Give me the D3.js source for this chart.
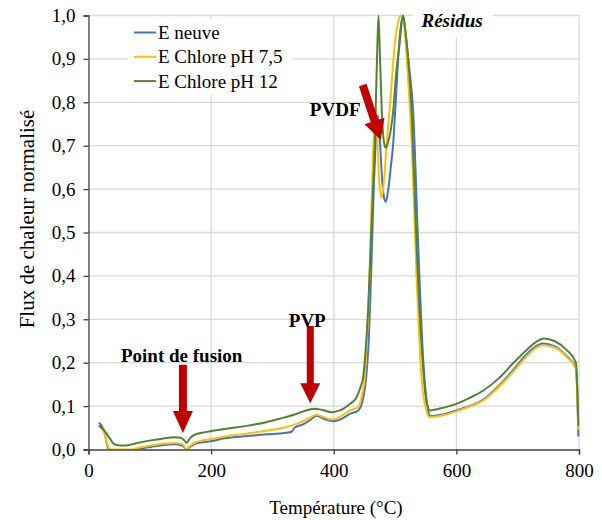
<!DOCTYPE html>
<html><head><meta charset="utf-8">
<script src="https://cdn.jsdelivr.net/npm/d3@7"></script>
<style>body{margin:0;background:#fff}svg{display:block}text{font-family:"Liberation Serif","Times New Roman",serif;fill:#000}</style>
</head><body><svg id="c" width="602" height="520"></svg>
<script>
// ---- data ----
const seriesNames = ["E neuve", "E Chlore pH 7,5", "E Chlore pH 12"];
const seriesColors = ["#4472c4", "#ffc000", "#548235"];
const xTicks = [0, 200, 400, 600, 800];
const yTicks = [0, 0.1, 0.2, 0.3, 0.4, 0.5, 0.6, 0.7, 0.8, 0.9, 1.0];

const tempNeuve = [17,25,33,50,70,85,102,120,140,152,157,160,164,170,178,200,222,260,290,320,331,336,350,362,372,385,399,412,426,440,448,453,457,460,465,469,472,475,479,482,485,489,493,497,501,505,509,513,517,523,529.5,537.6,546,554,557,575,600,620,644,670,692,715,730,741,760,780,795,799];
const fluxNeuve = [0.062,0.045,0.0,-0.003,-0.003,0.002,0.006,0.010,0.012,0.010,0.004,-0.001,0.004,0.010,0.015,0.019,0.026,0.031,0.035,0.038,0.041,0.050,0.058,0.068,0.078,0.070,0.065,0.070,0.082,0.090,0.118,0.167,0.25,0.36,0.59,0.72,0.77,0.72,0.62,0.58,0.571,0.60,0.65,0.706,0.80,0.90,0.97,1.0,0.96,0.88,0.78,0.475,0.205,0.090,0.077,0.080,0.090,0.099,0.115,0.148,0.182,0.220,0.238,0.244,0.238,0.215,0.188,0.03];

const tempPH75 = [17,25,35,50,70,85,102,120,140,152,157,160,164,170,178,200,222,260,290,323,345,360,372,385,396,410,426,440,446,450.6,454,457.6,463,466,468.6,471,474,478,482,486,491,500,505,509,512,515,520,527,535,543,551,556,575,600,620,644,670,692,715,730,740,760,780,795,799];
const fluxPH75 = [0.055,0.040,0.0,0.0,0.0,0.005,0.009,0.013,0.015,0.013,0.006,0.0,0.006,0.013,0.018,0.024,0.030,0.037,0.043,0.052,0.062,0.072,0.080,0.074,0.069,0.075,0.090,0.098,0.125,0.167,0.25,0.36,0.63,0.75,0.79,0.72,0.62,0.58,0.62,0.70,0.78,0.94,0.985,1.0,0.995,0.975,0.88,0.71,0.40,0.167,0.090,0.075,0.078,0.088,0.098,0.113,0.145,0.178,0.215,0.234,0.240,0.235,0.213,0.185,0.045];

const tempPH12 = [17,25,35,42,53,65,80,102,120,140,150,157,160,165,173,190,222,260,290,312,335,355,369,382,396,410,426,437,444,448,452,456,461.5,467,470.5,473,475.5,479,483,485,488,497,502,507,513,518,527,535,543,551,557,575,600,620,644,670,692,715,730,743,760,780,795,799];
const fluxPH12 = [0.055,0.045,0.025,0.012,0.009,0.010,0.015,0.021,0.025,0.028,0.027,0.020,0.015,0.025,0.034,0.040,0.047,0.055,0.063,0.071,0.080,0.090,0.094,0.091,0.086,0.090,0.105,0.120,0.145,0.167,0.230,0.321,0.513,0.706,0.90,1.0,0.90,0.76,0.70,0.695,0.705,0.78,0.87,0.93,1.0,0.95,0.78,0.475,0.245,0.113,0.090,0.095,0.105,0.118,0.136,0.165,0.198,0.230,0.248,0.256,0.250,0.229,0.200,0.055];

const temps = [tempNeuve, tempPH75, tempPH12];
const fluxes = [fluxNeuve, fluxPH75, fluxPH12];

// ---- layout ----
const svg = d3.select("#c");
const x = d3.scaleLinear().domain([0, 800]).range([88.5, 579]);
const y = d3.scaleLinear().domain([0, 1]).range([449.5, 15.5]);
const FS = 19;

// gridlines
const grid = svg.append("g");
grid.selectAll("line.h").data(yTicks.slice(1)).join("line")
  .attr("x1", x(0)).attr("x2", x(800)).attr("y1", d => y(d)).attr("y2", d => y(d))
  .attr("stroke", "#d9d9d9").attr("stroke-width", 1.3);
grid.selectAll("line.v").data(xTicks.slice(1)).join("line")
  .attr("x1", d => x(d)).attr("x2", d => x(d)).attr("y1", y(0)).attr("y2", y(1))
  .attr("stroke", "#d9d9d9").attr("stroke-width", 1.3);

// clip
svg.append("clipPath").attr("id", "clip").append("rect")
  .attr("x", x(0)).attr("y", y(1) - 2).attr("width", x(800) - x(0) + 2).attr("height", y(0) - y(1) + 2);

// lines
const line = d3.line().x(d => x(d[0])).y(d => y(d[1])).curve(d3.curveMonotoneX);
const lg = svg.append("g").attr("clip-path", "url(#clip)");
seriesNames.forEach((n, i) => {
  const pts = temps[i].map((t, k) => [t, fluxes[i][k]]);
  lg.append("path").attr("d", line(pts)).attr("fill", "none")
    .attr("stroke", seriesColors[i]).attr("stroke-width", 2).attr("stroke-linejoin", "round");
});

// axes
const yAxis = d3.axisLeft(y).tickValues(yTicks).tickSize(5).tickPadding(8)
  .tickFormat(d => d3.format(".1f")(d).replace(".", ","));
const gy = svg.append("g").attr("transform", `translate(${x(0)},0)`).call(yAxis);
const xAxis = d3.axisBottom(x).tickValues(xTicks).tickSize(5).tickPadding(9).tickFormat(d3.format("d"));
const gx = svg.append("g").attr("transform", `translate(0,${y(0)})`).call(xAxis);
[gx, gy].forEach(g => {
  g.attr("font-family", "Liberation Serif");
  g.selectAll("path.domain").attr("stroke", "#404040").attr("stroke-width", 1.3);
  g.selectAll(".tick line").attr("stroke", "#404040").attr("stroke-width", 1.3);
  g.selectAll("text").attr("font-family", "Liberation Serif").attr("font-size", FS).attr("fill", "#000");
});

// axis titles
svg.append("text").attr("x", 336).attr("y", 514).attr("text-anchor", "middle")
  .attr("font-size", FS).text("Température (°C)");
svg.append("text").attr("transform", "translate(34,219) rotate(-90)").attr("text-anchor", "middle")
  .attr("font-size", 21).text("Flux de chaleur normalisé");

// legend
const leg = svg.append("g");
leg.append("rect").attr("x", 128).attr("y", 19).attr("width", 165).attr("height", 76).attr("fill", "#fff");
seriesNames.forEach((n, i) => {
  const yy = 32.5 + i * 24.3;
  leg.append("line").attr("x1", 134).attr("x2", 156).attr("y1", yy).attr("y2", yy)
    .attr("stroke", seriesColors[i]).attr("stroke-width", 2);
  leg.append("text").attr("x", 158).attr("y", yy).attr("dy", "0.35em").attr("font-size", FS).text(n);
});

// Résidus label
svg.append("rect").attr("x", 413).attr("y", 0).attr("width", 80).attr("height", 37).attr("fill", "#fff");
svg.append("text").attr("x", 421.5).attr("y", 26.7).attr("font-size", FS)
  .attr("font-weight", "bold").attr("font-style", "italic").text("Résidus");

// annotations
const red = "#c00000";
function arrow(x0, y0, x1, y1, sw, hw, hl) {
  const dx = x1 - x0, dy = y1 - y0, L = Math.hypot(dx, dy);
  const ux = dx / L, uy = dy / L, px = -uy, py = ux;
  const bx = x1 - ux * hl, by = y1 - uy * hl;
  const p = [
    [x0 + px * sw / 2, y0 + py * sw / 2], [bx + px * sw / 2, by + py * sw / 2],
    [bx + px * hw / 2, by + py * hw / 2], [x1, y1],
    [bx - px * hw / 2, by - py * hw / 2], [bx - px * sw / 2, by - py * sw / 2],
    [x0 - px * sw / 2, y0 - py * sw / 2]];
  svg.append("polygon").attr("points", p.map(q => q.join(",")).join(" ")).attr("fill", red);
}
arrow(x(154), y(0.195), x(154), y(0.038), 8, 20, 22);
arrow(x(361.7), y(0.2846), x(361.7), y(0.1065), 7, 20, 20);
arrow(x(447.3), y(0.84), x(476.6), y(0.713), 8, 21, 20);

svg.append("text").attr("x", x(53)).attr("y", y(0.2023)).attr("font-size", FS).attr("font-weight", "bold").text("Point de fusion");
svg.append("text").attr("x", x(356.8)).attr("y", y(0.2816)).attr("text-anchor", "middle").attr("font-size", FS).attr("font-weight", "bold").text("PVP");
svg.append("text").attr("x", x(361)).attr("y", y(0.769)).attr("font-size", FS).attr("font-weight", "bold").text("PVDF");
</script></body></html>
